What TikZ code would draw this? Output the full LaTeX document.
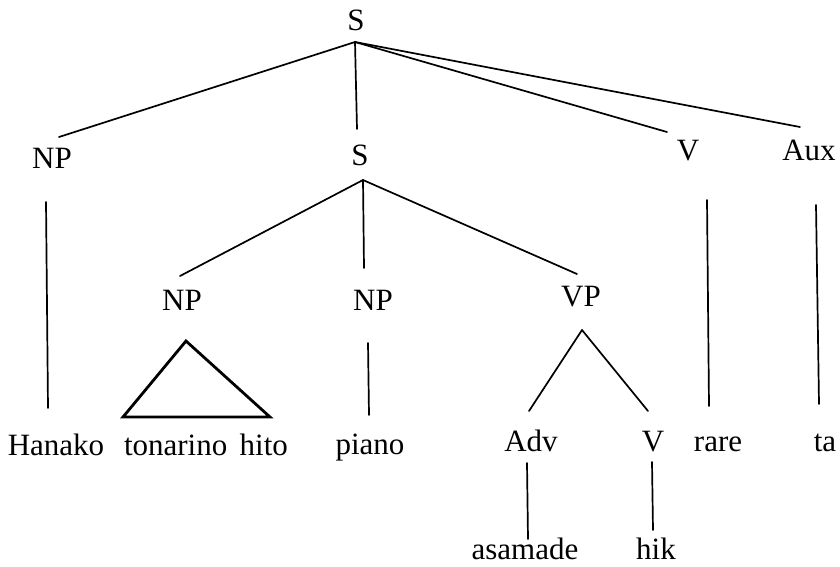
\documentclass[tikz,border=0pt]{standalone}
\usepackage{fontspec}
\setmainfont{Liberation Serif}
\begin{document}
\begin{tikzpicture}[x=1pt,y=-1pt,
  lbl/.style={inner sep=0pt,outer sep=0pt,anchor=base,text depth=0pt,font=\fontsize{31}{36}\selectfont},
  branch/.style={line width=1.7pt,line cap=round},
  roof/.style={line width=2.8pt,line join=miter}]
\useasboundingbox (0,0) rectangle (840,566);

% category labels
\node[lbl] (S0)   at (356,30)  {S};
\node[lbl] (NPa)  at (52,168)  {NP};
\node[lbl] (S1)   at (360,165) {S};
\node[lbl] (Vtop) at (688,160) {V};
\node[lbl] (Aux)  at (809,160) {Aux};
\node[lbl] (NPb)  at (182,310) {NP};
\node[lbl] (NPc)  at (373,310) {NP};
\node[lbl] (VP)   at (581,306) {VP};
\node[lbl] (Adv)  at (531,451) {Adv};
\node[lbl] (Vlow) at (653,451) {V};

% words
\node[lbl] (hanako) at (56,455)  {Hanako};
\node[lbl] (tonari) at (206,455) {tonarino\hspace{0.4em}hito};
\node[lbl] (piano)  at (370,454) {piano};
\node[lbl] (rare)   at (718,451) {rare};
\node[lbl] (ta)     at (825,451) {ta};
\node[lbl] (asa)    at (525,559) {asamade};
\node[lbl] (hik)    at (656,559) {hik};

% attachment points of the branches
\coordinate (S0b)   at (355,42);
\coordinate (NPat)  at (59,137);
\coordinate (S1t)   at (357,129);
\coordinate (Vtopt) at (667,132);
\coordinate (Auxt)  at (800,127);
\coordinate (NPab)  at (46,202);
\coordinate (hanakot) at (48,408);
\coordinate (S1b)   at (363,180);
\coordinate (NPbt)  at (180,276);
\coordinate (NPct)  at (364,268);
\coordinate (VPt)   at (577,274);
\coordinate (NPcb)  at (368,343);
\coordinate (pianot) at (369,415);
\coordinate (VPb)   at (582,330);
\coordinate (Advt)  at (529,411);
\coordinate (Vlowt) at (648,411);
\coordinate (Vtopb) at (707,200);
\coordinate (raret) at (709,406);
\coordinate (Auxb)  at (816,205);
\coordinate (tat)   at (819,404);
\coordinate (Advb)  at (527,463);
\coordinate (asat)  at (528,539);
\coordinate (Vlowb) at (652,462);
\coordinate (hikt)  at (653,530);
\coordinate (roofA) at (186,341);
\coordinate (roofL) at (123,417);
\coordinate (roofR) at (270,417);

% branches
\draw[branch] (S0b) -- (NPat);
\draw[branch] (S0b) -- (S1t);
\draw[branch] (S0b) -- (Vtopt);
\draw[branch] (S0b) -- (Auxt);
\draw[branch] (NPab) -- (hanakot);
\draw[branch] (S1b) -- (NPbt);
\draw[branch] (S1b) -- (NPct);
\draw[branch] (S1b) -- (VPt);
\draw[branch] (NPcb) -- (pianot);
\draw[branch] (VPb) -- (Advt);
\draw[branch] (VPb) -- (Vlowt);
\draw[branch] (Vtopb) -- (raret);
\draw[branch] (Auxb) -- (tat);
\draw[branch] (Advb) -- (asat);
\draw[branch] (Vlowb) -- (hikt);

% roof over the unanalysed noun phrase
\draw[roof] (roofA) -- (roofL) -- (roofR) -- cycle;
\end{tikzpicture}
\end{document}
